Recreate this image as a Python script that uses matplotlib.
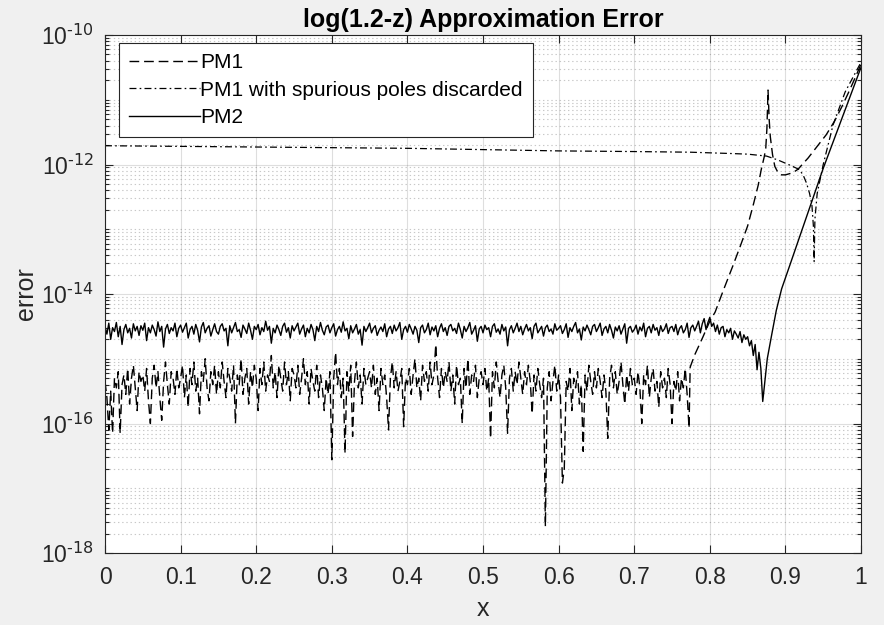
import numpy as np
import matplotlib.pyplot as plt
from matplotlib.ticker import FixedLocator, FuncFormatter, NullFormatter

plt.rcParams['font.family'] = ['Liberation Sans', 'DejaVu Sans']
plt.rcParams['mathtext.default'] = 'regular'
plt.rcParams['lines.scale_dashes'] = False

# sample spacing of the round-off region
dx = 0.0025

# PM1: log10 of the error, x = 0 .. 0.7725
pm1_noise_exp = [
    -15.35, -15.6, -16.1, -15.5, -16.15, -15.3, -15.45, -15.2, -16.15, -15.4, -15.25, -15.55, -15.15, -15.7, -15.3, -15.1, -15.45, -15.8, -15.2, -15.35,
    -15.25, -15.5, -15.15, -15.65, -16.0, -15.3, -15.1, -15.45, -15.2, -15.6, -15.95, -15.35, -15.05, -15.4, -15.7, -15.2, -15.3, -15.55, -15.15, -15.45,
    -15.3, -15.1, -15.6, -15.25, -15.75, -15.15, -15.4, -15.05, -15.5, -15.3, -15.85, -15.2, -15.35, -15.0, -15.45, -15.65, -15.2, -15.4, -15.1, -15.55,
    -15.2, -15.45, -15.05, -15.35, -15.6, -15.15, -15.3, -15.5, -15.1, -16.0, -15.25, -15.4, -15.0, -15.55, -15.3, -15.15, -15.7, -15.2, -15.45, -15.1,
    -15.3, -15.8, -15.15, -15.4, -15.05, -15.5, -15.25, -15.35, -14.95, -15.45, -15.2, -15.6, -15.1, -15.3, -15.5, -15.05, -15.4, -15.2, -15.65, -15.15,
    -15.25, -15.45, -15.1, -15.55, -15.3, -15.0, -15.4, -15.2, -15.7, -15.15, -15.35, -15.5, -15.1, -15.6, -15.25, -15.45, -15.8, -15.3, -15.55, -15.2,
    -16.56, -15.3, -14.9, -15.4, -15.15, -15.6, -15.3, -16.46, -15.2, -15.5, -15.1, -16.2, -15.35, -15.05, -15.45, -15.25, -15.7, -15.15, -15.4, -15.3,
    -15.2, -15.45, -15.1, -15.55, -15.3, -15.8, -15.15, -15.4, -15.25, -15.6, -16.1, -15.3, -15.05, -15.45, -15.2, -15.5, -15.35, -15.15, -16.05, -15.3,
    -15.4, -15.15, -15.55, -15.25, -15.0, -15.45, -15.3, -15.65, -15.1, -15.35, -15.2, -15.5, -15.05, -15.4, -15.25, -14.78, -15.3, -15.6, -15.15, -15.45,
    -15.2, -15.35, -15.05, -15.5, -15.25, -15.7, -15.1, -15.4, -15.3, -16.0, -15.15, -15.45, -15.0, -15.55, -15.25, -15.35, -15.1, -15.6, -15.3, -15.2,
    -15.4, -15.15, -15.5, -15.3, -16.23, -15.2, -15.45, -15.05, -15.35, -15.6, -15.25, -15.1, -15.45, -16.15, -15.3, -15.15, -15.5, -15.2, -15.4, -15.05,
    -15.3, -15.55, -15.2, -15.4, -15.1, -15.35, -15.85, -15.25, -15.5, -15.15, -15.4, -15.6, -15.3, -17.59, -15.45, -15.2, -15.65, -15.35, -15.1, -15.5,
    -15.25, -15.6, -16.92, -16.7, -15.35, -15.5, -15.15, -15.8, -15.3, -15.45, -15.2, -15.7, -15.4, -16.43, -15.25, -15.5, -15.1, -15.35, -15.55, -15.2,
    -15.45, -15.15, -15.35, -15.6, -15.25, -15.5, -16.23, -15.3, -15.1, -15.45, -15.2, -15.55, -15.35, -15.05, -15.4, -15.7, -15.25, -15.5, -15.15, -15.4,
    -15.3, -15.55, -15.2, -15.45, -16.0, -15.25, -15.4, -15.1, -15.6, -15.3, -15.15, -15.5, -15.35, -15.75, -15.2, -15.45, -15.3, -15.6, -15.15, -15.4,
    -16.0, -15.35, -15.5, -15.2, -15.65, -15.3, -15.45, -15.15, -15.55, -16.07,
]
# PM1 beyond the round-off region (pole near x = 0.877)
pm1_tail_x = [0.774, 0.78, 0.791, 0.80, 0.807, 0.818, 0.83, 0.84, 0.85, 0.858, 0.864, 0.868,
              0.872, 0.874, 0.8755, 0.8765, 0.877, 0.8775, 0.8785, 0.88, 0.883, 0.886, 0.89,
              0.895, 0.90, 0.906, 0.912, 0.917, 0.923, 0.93, 0.94, 0.954, 0.965, 0.975,
              0.985, 0.993, 1.0]
pm1_tail_exp = [-15.13, -14.94, -14.66, -14.42, -14.28, -13.94, -13.58, -13.27, -12.95, -12.6, -12.32, -12.08,
                -11.88, -11.75, -11.45, -11.05, -10.85, -11.0, -11.3, -11.57, -11.85, -12.03, -12.12,
                -12.16, -12.16, -12.14, -12.11, -12.07, -11.99, -11.9, -11.75, -11.54, -11.33, -11.1,
                -10.85, -10.64, -10.45]

# PM1 with spurious poles discarded
pm1d_x = [0.0, 0.1, 0.2, 0.3, 0.4, 0.5, 0.6, 0.7, 0.774, 0.827, 0.85, 0.875, 0.89, 0.906,
          0.917, 0.923, 0.928, 0.932, 0.935, 0.937, 0.938, 0.939, 0.942, 0.95, 0.963,
          0.979, 1.0]
pm1d_exp = [-11.71, -11.72, -11.73, -11.74, -11.75, -11.77, -11.79, -11.8, -11.81, -11.83, -11.84,
            -11.87, -11.93, -12.01, -12.07, -12.15, -12.29, -12.45, -12.62, -12.95, -13.5, -12.85,
            -12.45, -12.0, -11.39, -10.88, -10.42]

# PM2: log10 of the error, x = 0 .. 0.8675
pm2_noise_exp = [
    -14.5, -14.62, -14.45, -14.7, -14.52, -14.58, -14.44, -14.66, -14.5, -14.78, -14.55, -14.47, -14.6, -14.53, -14.68, -14.46, -14.57, -14.5, -14.64, -14.49,
    -14.56, -14.45, -14.72, -14.52, -14.6, -14.48, -14.55, -14.65, -14.43, -14.58, -14.5, -14.82, -14.54, -14.47, -14.61, -14.52, -14.57, -14.45, -14.66, -14.53,
    -14.48, -14.59, -14.52, -14.45, -14.68, -14.55, -14.5, -14.62, -14.47, -14.56, -14.74, -14.51, -14.44, -14.6, -14.53, -14.49, -14.65, -14.55, -14.46, -14.58,
    -14.62, -14.5, -14.46, -14.57, -14.53, -14.8, -14.49, -14.6, -14.52, -14.44, -14.58, -14.55, -14.67, -14.48, -14.54, -14.61, -14.45, -14.56, -14.7, -14.5,
    -14.55, -14.47, -14.63, -14.52, -14.58, -14.42, -14.56, -14.5, -14.76, -14.53, -14.6, -14.48, -14.55, -14.64, -14.5, -14.45, -14.59, -14.52, -14.68, -14.49,
    -14.57, -14.51, -14.45, -14.62, -14.54, -14.48, -14.66, -14.53, -14.6, -14.47, -14.55, -14.72, -14.5, -14.58, -14.44, -14.56, -14.63, -14.51, -14.48, -14.6,
    -14.52, -14.46, -14.65, -14.55, -14.5, -14.59, -14.43, -14.57, -14.53, -14.69, -14.49, -14.6, -14.54, -14.47, -14.62, -14.55, -14.79, -14.5, -14.58, -14.52,
    -14.45, -14.6, -14.53, -14.49, -14.64, -14.56, -14.51, -14.58, -14.46, -14.66, -14.54, -14.5, -14.61, -14.48, -14.57, -14.52, -14.44, -14.7, -14.55, -14.5,
    -14.59, -14.47, -14.54, -14.62, -14.5, -14.56, -14.75, -14.52, -14.48, -14.6, -14.55, -14.45, -14.63, -14.51, -14.57, -14.49, -14.66, -14.53, -14.46, -14.58,
    -14.52, -14.64, -14.5, -14.47, -14.57, -14.53, -14.61, -14.45, -14.55, -14.68, -14.5, -14.58, -14.52, -14.44, -14.62, -14.56, -14.49, -14.73, -14.54, -14.5,
    -14.6, -14.48, -14.55, -14.52, -14.66, -14.5, -14.46, -14.59, -14.54, -14.62, -14.47, -14.57, -14.51, -14.8, -14.55, -14.49, -14.6, -14.53, -14.45, -14.58,
    -14.5, -14.63, -14.54, -14.47, -14.57, -14.52, -14.69, -14.5, -14.45, -14.6, -14.55, -14.5, -14.65, -14.52, -14.48, -14.58, -14.54, -14.62, -14.46, -14.56,
    -14.53, -14.49, -14.61, -14.55, -14.46, -14.67, -14.52, -14.58, -14.5, -14.44, -14.6, -14.54, -14.71, -14.51, -14.57, -14.48, -14.55, -14.63, -14.5, -14.47,
    -14.58, -14.52, -14.45, -14.64, -14.54, -14.5, -14.6, -14.47, -14.56, -14.68, -14.51, -14.57, -14.49, -14.62, -14.54, -14.46, -14.76, -14.53, -14.5, -14.59,
    -14.55, -14.48, -14.62, -14.51, -14.57, -14.45, -14.66, -14.53, -14.5, -14.6, -14.47, -14.56, -14.52, -14.64, -14.49, -14.58, -14.54, -14.46, -14.61, -14.52,
    -14.5, -14.58, -14.47, -14.63, -14.53, -14.49, -14.6, -14.55, -14.45, -14.67, -14.52, -14.48, -14.57, -14.5, -14.42, -14.6, -14.46, -14.38, -14.55, -14.44,
    -14.36, -14.5, -14.45, -14.58, -14.48, -14.62, -14.52, -14.5, -14.66, -14.55, -14.6, -14.53, -14.7, -14.57, -14.62, -14.68, -14.58, -14.75, -14.63, -14.7,
    -14.66, -14.8, -14.72, -14.95, -14.78, -15.17, -14.9, -15.15,
]
pm2_tail_x = [0.870, 0.876, 0.882, 0.888, 0.895, 0.906, 0.95, 1.0]
pm2_tail_exp = [-15.66, -15.0, -14.62, -14.25, -13.92, -13.55, -12.06, -10.5]

x_ticks = [0, 0.1, 0.2, 0.3, 0.4, 0.5, 0.6, 0.7, 0.8, 0.9, 1]
x_tick_labels = ['0', '0.1', '0.2', '0.3', '0.4', '0.5', '0.6', '0.7', '0.8', '0.9', '1']
y_ticks = [1e-18, 1e-16, 1e-14, 1e-12, 1e-10]

x1 = np.concatenate([np.arange(len(pm1_noise_exp)) * dx, pm1_tail_x])
y1 = 10.0 ** np.concatenate([pm1_noise_exp, pm1_tail_exp])
x1d = np.array(pm1d_x)
y1d = 10.0 ** np.array(pm1d_exp)
x2 = np.concatenate([np.arange(len(pm2_noise_exp)) * dx, pm2_tail_x])
y2 = 10.0 ** np.concatenate([pm2_noise_exp, pm2_tail_exp])


def pow10_label(v, pos):
    # plain hyphen in the exponent
    e = int(round(np.log10(v)))
    return r'$10^{\text{-%d}}$' % abs(e) if e < 0 else r'$10^{%d}$' % e


fig = plt.figure(figsize=(8.84, 6.25), dpi=100, facecolor='#f0f0f0')
ax = fig.add_axes([0.1188, 0.1152, 0.8552, 0.8288])

ax.plot(x1, y1, color='black', lw=1.0, ls=(0, (7, 3.5)), label='PM1')
ax.plot(x1d, y1d, color='black', lw=0.9, ls=(0, (5, 2.3, 1.2, 2.3)),
        label='PM1 with spurious poles discarded')
ax.plot(x2, y2, color='black', lw=1.0, ls='-', label='PM2')

ax.set_yscale('log')
ax.set_xlim(0, 1)
ax.set_ylim(1e-18, 1e-10)

ax.set_xticks(x_ticks)
ax.set_xticklabels(x_tick_labels)
ax.yaxis.set_major_locator(FixedLocator(y_ticks))
ax.yaxis.set_major_formatter(FuncFormatter(pow10_label))
minor = [k * 10.0 ** e for e in range(-18, -10) for k in range(1, 10)
         if not (k == 1 and e % 2 == 0)]
ax.yaxis.set_minor_locator(FixedLocator(minor))
ax.yaxis.set_minor_formatter(NullFormatter())

ax.grid(which='major', color='#262626', alpha=0.15, lw=0.8)
ax.grid(which='minor', axis='y', color='#262626', alpha=0.25, lw=0.8, ls=(0, (1, 2)))
ax.set_axisbelow(True)

ax.tick_params(which='both', direction='in', top=True, right=True, colors='#262626',
               labelsize=16.5, width=0.8)
ax.tick_params(which='major', length=6)
ax.tick_params(axis='x', which='major', pad=9)
ax.tick_params(axis='y', which='major', pad=8)
ax.tick_params(which='minor', length=3)
for s in ax.spines.values():
    s.set_color('#262626')
    s.set_linewidth(0.8)

ax.set_title('log(1.2-z) Approximation Error', fontsize=18, fontweight='bold', pad=6)
ax.set_xlabel('x', fontsize=18, color='#262626', labelpad=6)
ax.set_ylabel('error', fontsize=18, color='#262626', labelpad=2)

leg = ax.legend(loc='upper left', bbox_to_anchor=(0.0185, 0.9846), borderaxespad=0,
                fontsize=15, fancybox=False, edgecolor='#262626', framealpha=1,
                handlelength=3.4, handletextpad=0.0, labelspacing=0.4, borderpad=0.5)
leg.get_frame().set_linewidth(0.8)

fig.savefig('out.png', dpi=100, facecolor=fig.get_facecolor())
